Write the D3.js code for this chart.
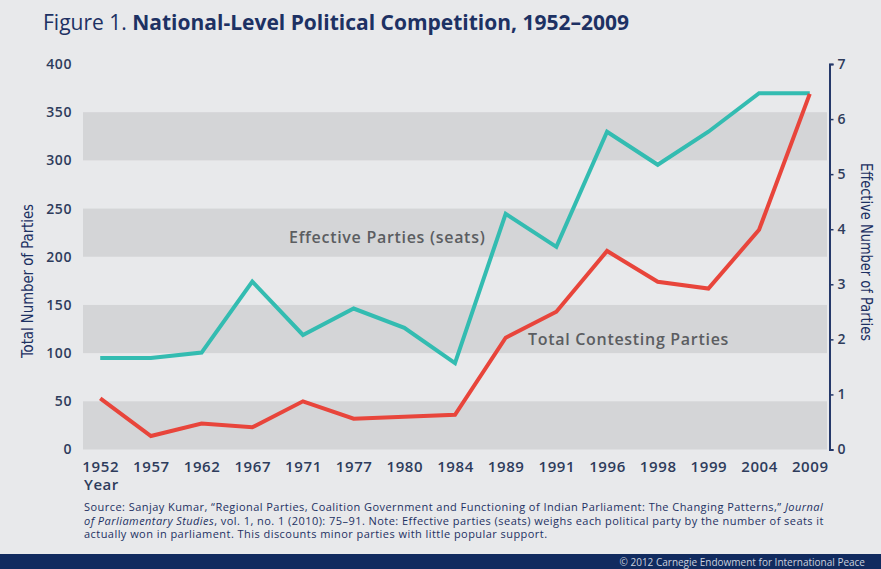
<!DOCTYPE html>
<html>
<head>
<meta charset="utf-8">
<script src="https://cdn.jsdelivr.net/npm/d3@7"></script>
<style>
  html, body { margin: 0; padding: 0; background: #e8e9eb; }
  svg { display: block; }
</style>
</head>
<body>
<div id="chart"></div>
<script>
  'use strict';

  // Data
  const years = ['1952', '1957', '1962', '1967', '1971', '1977', '1980', '1984',
    '1989', '1991', '1996', '1998', '1999', '2004', '2009'];
  const totalContesting = [53, 14, 27, 23, 50, 32, 34, 36, 116, 143, 206, 174, 167, 228, 369];
  const effectiveSeats = [1.66, 1.66, 1.76, 3.05, 2.08, 2.56, 2.21, 1.57, 4.28, 3.68, 5.77, 5.17, 5.77, 6.47, 6.47];
  const leftTicks = [0, 50, 100, 150, 200, 250, 300, 350, 400];
  const rightTicks = [0, 1, 2, 3, 4, 5, 6, 7];
  const bandStarts = [0, 100, 200, 300];

  const width = 881, height = 569;
  const navy = '#1d3163';
  const tickColor = '#2e3c5c';

  const svg = d3.select('#chart').append('svg')
    .attr('width', width)
    .attr('height', height);

  svg.append('rect')
    .attr('width', width)
    .attr('height', height)
    .attr('fill', '#e8e9eb');

  // Scales
  const x = d3.scalePoint().domain(years).range([83, 827]).padding(0.34);
  const yLeft = d3.scaleLinear().domain([0, 400]).range([449.5, 64]);
  const yRight = d3.scaleLinear().domain([0, 7]).range([449.5, 64]);

  // Grey bands
  svg.append('g').selectAll('rect')
    .data(bandStarts)
    .enter().append('rect')
    .attr('x', 83)
    .attr('width', 744)
    .attr('y', d => yLeft(d + 50))
    .attr('height', d => yLeft(d) - yLeft(d + 50))
    .attr('fill', '#d4d5d7');

  // Title
  const title = svg.append('text')
    .attr('x', 43)
    .attr('y', 30)
    .attr('fill', navy)
    .attr('font-family', '"Open Sans", sans-serif')
    .attr('font-size', '21px');
  title.append('tspan').attr('font-weight', 400).text('Figure 1. ');
  title.append('tspan').attr('font-weight', 700).text('National-Level Political Competition, 1952–2009');

  const tickFont = g => g.selectAll('.tick text')
    .attr('fill', tickColor)
    .attr('font-family', '"Open Sans", sans-serif')
    .attr('font-weight', 600)
    .attr('font-size', '14px')
    .attr('letter-spacing', '0.6px');

  // Left axis (labels only)
  svg.append('g')
    .attr('transform', 'translate(78,0)')
    .call(d3.axisLeft(yLeft).tickValues(leftTicks).tickSize(0).tickPadding(6))
    .call(g => g.select('.domain').remove())
    .call(tickFont);

  // Right axis
  svg.append('g')
    .attr('transform', 'translate(829.5,0)')
    .call(d3.axisRight(yRight).tickValues(rightTicks).tickFormat(d3.format('d'))
      .tickSize(4).tickSizeOuter(4).tickPadding(4))
    .call(g => g.select('.domain').attr('stroke', '#25396a').attr('stroke-width', 2))
    .call(g => g.selectAll('.tick line').attr('stroke', '#25396a').attr('stroke-width', 1.5))
    .call(tickFont);

  // Bottom axis (labels only)
  svg.append('g')
    .attr('transform', 'translate(0,458)')
    .call(d3.axisBottom(x).tickSize(0).tickPadding(3))
    .call(g => g.select('.domain').remove())
    .call(tickFont)
    .call(g => g.selectAll('.tick text').attr('font-size', '15px'));

  svg.append('text')
    .attr('x', 84)
    .attr('y', 490)
    .attr('fill', tickColor)
    .attr('font-family', '"Open Sans", sans-serif')
    .attr('font-weight', 600)
    .attr('font-size', '15px')
    .attr('letter-spacing', '0.5px')
    .text('Year');

  // Axis titles
  const narrow = '"Liberation Sans Narrow", "DejaVu Sans Condensed", sans-serif';
  svg.append('text')
    .attr('transform', 'translate(33,281) rotate(-90)')
    .attr('text-anchor', 'middle')
    .attr('fill', navy)
    .attr('font-family', narrow)
    .attr('font-size', '15px')
    .attr('textLength', 154)
    .attr('lengthAdjust', 'spacingAndGlyphs')
    .text('Total Number of Parties');

  svg.append('text')
    .attr('transform', 'translate(861,252) rotate(90)')
    .attr('text-anchor', 'middle')
    .attr('fill', navy)
    .attr('font-family', narrow)
    .attr('font-size', '15px')
    .attr('textLength', 178)
    .attr('lengthAdjust', 'spacingAndGlyphs')
    .text('Effective Number of Parties');

  // Lines
  const lineLeft = d3.line()
    .x((d, i) => x(years[i]))
    .y(d => yLeft(d));
  const lineRight = d3.line()
    .x((d, i) => x(years[i]))
    .y(d => yRight(d));

  svg.append('path')
    .datum(effectiveSeats)
    .attr('d', lineRight)
    .attr('fill', 'none')
    .attr('stroke', '#33bcb1')
    .attr('stroke-width', 4)
    .attr('stroke-linejoin', 'miter');

  svg.append('path')
    .datum(totalContesting)
    .attr('d', lineLeft)
    .attr('fill', 'none')
    .attr('stroke', '#e8453b')
    .attr('stroke-width', 4)
    .attr('stroke-linejoin', 'miter');

  // Series labels
  svg.append('text')
    .attr('x', 289)
    .attr('y', 243)
    .attr('fill', '#5b5d61')
    .attr('font-family', '"Open Sans", sans-serif')
    .attr('font-weight', 600)
    .attr('font-size', '16px')
    .attr('letter-spacing', '0.7px')
    .text('Effective Parties (seats)');

  svg.append('text')
    .attr('x', 528)
    .attr('y', 345)
    .attr('fill', '#5b5d61')
    .attr('font-family', '"Open Sans", sans-serif')
    .attr('font-weight', 600)
    .attr('font-size', '16px')
    .attr('letter-spacing', '0.7px')
    .text('Total Contesting Parties');

  // Source note
  const note = svg.append('g')
    .attr('fill', navy)
    .attr('font-family', '"Open Sans", sans-serif')
    .attr('font-size', '11px')
    .attr('letter-spacing', '0.45px');
  const l1 = note.append('text').attr('x', 84).attr('y', 511);
  l1.append('tspan').text('Source: Sanjay Kumar, “Regional Parties, Coalition Government and Functioning of Indian Parliament: The Changing Patterns,” ');
  l1.append('tspan').attr('font-style', 'italic').text('Journal');
  const l2 = note.append('text').attr('x', 84).attr('y', 524.5);
  l2.append('tspan').attr('font-style', 'italic').text('of Parliamentary Studies');
  l2.append('tspan').text(', vol. 1, no. 1 (2010): 75–91.  Note: Effective parties (seats) weighs each political party by the number of seats it');
  note.append('text').attr('x', 84).attr('y', 538)
    .text('actually won in parliament. This discounts minor parties with little popular support.');

  // Footer bar
  svg.append('rect')
    .attr('x', 0)
    .attr('y', 554)
    .attr('width', width)
    .attr('height', height - 554)
    .attr('fill', '#112b5f');
  svg.append('text')
    .attr('x', 865)
    .attr('y', 566)
    .attr('text-anchor', 'end')
    .attr('fill', '#c9d0de')
    .attr('font-family', '"Open Sans", sans-serif')
    .attr('font-size', '10px')
    .text('© 2012 Carnegie Endowment for International Peace');
</script>
</body>
</html>
